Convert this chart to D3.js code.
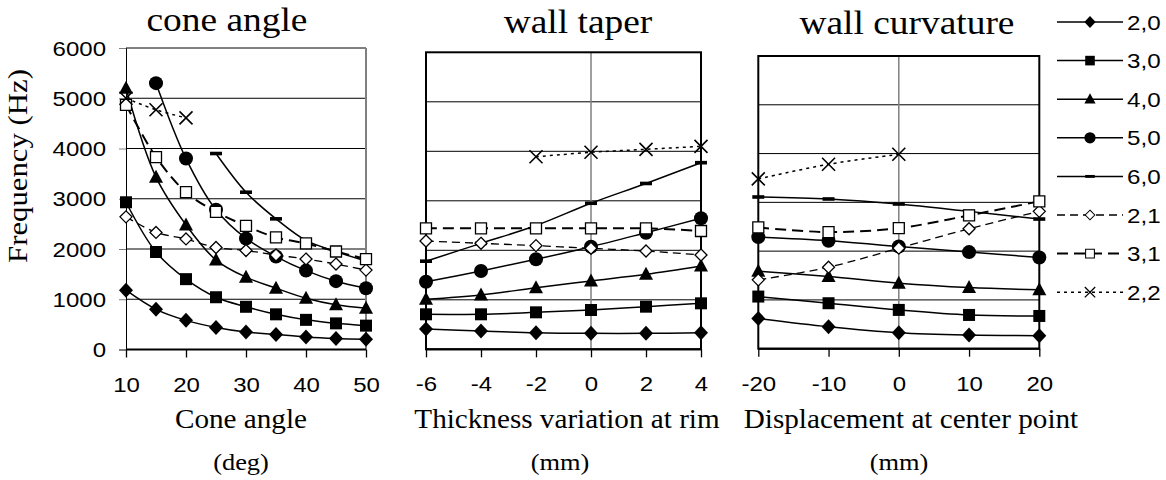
<!DOCTYPE html>
<html>
<head>
<meta charset="utf-8">
<script src="https://cdnjs.cloudflare.com/ajax/libs/d3/7.8.5/d3.min.js"></script>
<style type="text/css">
  body{
    margin: 0;
    background: white;
  }
  svg text{
    fill: black;
  }
</style>
</head>
<body>
<svg id="chart" width="1166" height="480"></svg>
<script>

// series (mode labels) in legend order
var seriesNames = ["2,0", "3,0", "4,0", "5,0", "6,0", "2,1", "3,1", "2,2"];

var yTicks = [0, 1000, 2000, 3000, 4000, 5000, 6000];

// cone angle panel
var coneX = [10, 15, 20, 25, 30, 35, 40, 45, 50];
var coneTicks = [10, 20, 30, 40, 50];
var coneValues = [
  [1180, 800, 580, 440, 350, 300, 250, 220, 205],
  [2930, 1940, 1400, 1040, 850, 700, 590, 520, 475],
  [5200, 3430, 2480, 1780, 1440, 1220, 1020, 890, 820],
  [null, 5300, 3800, 2780, 2210, 1850, 1570, 1360, 1220],
  [null, null, null, 3900, 3130, 2600, 2170, 1950, 1760],
  [2640, 2330, 2200, 2030, 1970, 1880, 1800, 1700, 1580],
  [4870, 3830, 3130, 2740, 2460, 2230, 2110, 1950, 1800],
  [5000, 4770, 4610, null, null, null, null, null, null]
];

// wall taper panel
var taperX = [-6, -4, -2, 0, 2, 4];
var taperTicks = [-6, -4, -2, 0, 2, 4];
var taperValues = [
  [410, 370, 335, 322, 322, 335],
  [707, 707, 747, 794, 861, 929],
  [1010, 1097, 1244, 1380, 1515, 1683],
  [1366, 1582, 1818, 2073, 2356, 2646],
  [1780, 2140, 2500, 2950, 3350, 3770],
  [2188, 2141, 2094, 2040, 1986, 1905],
  [2444, 2444, 2444, 2444, 2444, 2390],
  [null, null, 3890, 3980, 4040, 4100]
];

// wall curvature panel
var curvX = [-20, -10, 0, 10, 20];
var curvTicks = [-20, -10, 0, 10, 20];
var curvValues = [
  [620, 452, 329, 281, 267],
  [1069, 932, 795, 692, 671],
  [1590, 1480, 1343, 1254, 1206],
  [2288, 2213, 2096, 1980, 1870],
  [3110, 3069, 2966, 2815, 2658],
  [1411, 1671, 2062, 2459, 2815],
  [2486, 2391, 2473, 2733, 3021],
  [3480, 3781, 3985, null, null]
];

// look of each series
var seriesStyle = [
  {marker: "diamond", dash: null, width: 1.5},
  {marker: "square", dash: null, width: 1.5},
  {marker: "triangle", dash: null, width: 1.5},
  {marker: "circle", dash: null, width: 1.5},
  {marker: "bar", dash: null, width: 1.5},
  {marker: "odiamond", dash: "8,5", width: 1.3},
  {marker: "osquare", dash: "11,6", width: 2},
  {marker: "cross", dash: "3,4", width: 1.5}
];

var SANS = "'Liberation Sans', Arial, sans-serif";
var SERIF = "'Liberation Serif', 'Times New Roman', serif";
var stretch = 1.2;  // the picture is wider than its fonts

var panels = [
  {x: coneX, values: coneValues, ticks: coneTicks, domain: [10, 50],
   left: 126, right: 366, top: 48, bottom: 349.5,
   title: "cone angle", titleX: 227, titleY: 31,
   label1: "Cone angle", label2: "(deg)", labelX: 241, label2X: 241, first: true},
  {x: taperX, values: taperValues, ticks: taperTicks, domain: [-6, 4],
   left: 426, right: 701, top: 52.3, bottom: 349.3,
   title: "wall taper", titleX: 578, titleY: 33,
   label1: "Thickness variation at rim", label2: "(mm)", labelX: 567, label2X: 560, first: false},
  {x: curvX, values: curvValues, ticks: curvTicks, domain: [-20, 20],
   left: 758.3, right: 1039.3, top: 56, bottom: 348.7,
   title: "wall curvature", titleX: 907, titleY: 34,
   label1: "Displacement at center point", label2: "(mm)", labelX: 911, label2X: 899, first: false}
];

var svg = d3.select("#chart");

function fit(sel, k) {
  sel.each(function() {
    var w = this.getComputedTextLength();
    d3.select(this).attr("textLength", w * k).attr("lengthAdjust", "spacingAndGlyphs");
  });
}

function markerPath(type) {
  var p = d3.path();
  if (type == "diamond") {
    p.moveTo(0, -7.5); p.lineTo(7, 0); p.lineTo(0, 7.5); p.lineTo(-7, 0); p.closePath();
  } else if (type == "odiamond") {
    p.moveTo(0, -6); p.lineTo(6, 0); p.lineTo(0, 6); p.lineTo(-6, 0); p.closePath();
  } else if (type == "square") {
    p.rect(-6, -6, 12, 12);
  } else if (type == "osquare") {
    p.rect(-5.5, -5.5, 11, 11);
  } else if (type == "triangle") {
    p.moveTo(0, -7.5); p.lineTo(7, 5.5); p.lineTo(-7, 5.5); p.closePath();
  } else if (type == "circle") {
    p.arc(0, 0, 7, 0, 2 * Math.PI);
  } else if (type == "bar") {
    p.rect(-6, -1.8, 12, 3.6);
  } else if (type == "cross") {
    p.moveTo(-6.5, -6.5); p.lineTo(6.5, 6.5); p.moveTo(6.5, -6.5); p.lineTo(-6.5, 6.5);
  }
  return p.toString();
}

function drawMarker(g, type, x, y, s) {
  var m = g.append("path")
    .attr("d", markerPath(type))
    .attr("transform", "translate(" + x + "," + y + ") scale(" + (s || 1) + ")");
  if (type == "odiamond" || type == "osquare") {
    m.attr("fill", "white").attr("stroke", "black").attr("stroke-width", 1.3);
  } else if (type == "cross") {
    m.attr("fill", "none").attr("stroke", "black").attr("stroke-width", 1.6);
  } else {
    m.attr("fill", "black").attr("stroke", "none");
  }
}

panels.forEach(function(pn) {

  var xScale = d3.scaleLinear().domain(pn.domain).range([pn.left, pn.right]);
  var yScale = d3.scaleLinear().domain([0, 6000]).range([pn.bottom, pn.top]);

  var g = svg.append("g");

  // horizontal gridlines
  g.selectAll(".grid")
    .data(yTicks.slice(1, -1))
    .enter()
    .append("line")
    .attr("x1", pn.left).attr("x2", pn.right)
    .attr("y1", function(d) { return yScale(d); })
    .attr("y2", function(d) { return yScale(d); })
    .attr("stroke", "black").attr("stroke-width", 1);

  if (pn.first) {
    g.append("line")
      .attr("x1", pn.left).attr("x2", pn.right)
      .attr("y1", pn.top).attr("y2", pn.top)
      .attr("stroke", "black").attr("stroke-width", 1);
    g.append("line")
      .attr("x1", pn.right).attr("x2", pn.right)
      .attr("y1", pn.top).attr("y2", pn.bottom)
      .attr("stroke", "#808080").attr("stroke-width", 2);

    // y axis with labels
    var yAxis = d3.axisLeft(yScale).tickValues(yTicks).tickSize(7).tickPadding(13)
      .tickFormat(d3.format("d"));
    var ya = g.append("g")
      .attr("transform", "translate(" + pn.left + ",0)")
      .call(yAxis);
    ya.select(".domain").attr("stroke", "black").attr("stroke-width", 1);
    ya.selectAll(".tick line").attr("stroke", "#808080");
    ya.selectAll(".tick text")
      .attr("font-family", SANS)
      .attr("font-size", 20)
      .attr("dy", "0.36em")
      .call(fit, stretch);
  } else {
    // zero line
    g.append("line")
      .attr("x1", xScale(0)).attr("x2", xScale(0))
      .attr("y1", pn.top).attr("y2", pn.bottom)
      .attr("stroke", "#808080").attr("stroke-width", 1.5);
    g.append("rect")
      .attr("x", pn.left).attr("y", pn.top)
      .attr("width", pn.right - pn.left).attr("height", pn.bottom - pn.top)
      .attr("fill", "none").attr("stroke", "black").attr("stroke-width", 2);
  }

  // x axis
  var xAxis = d3.axisBottom(xScale).tickValues(pn.ticks).tickSize(8).tickPadding(20)
    .tickFormat(d3.format("d"));
  var xa = g.append("g")
    .attr("transform", "translate(0," + pn.bottom + ")")
    .call(xAxis);
  xa.select(".domain").attr("stroke", "black").attr("stroke-width", 2)
    .attr("d", "M" + pn.left + ",0H" + pn.right);
  xa.selectAll(".tick line").attr("stroke", "black").attr("stroke-width", 1.3);
  xa.selectAll(".tick text")
    .attr("font-family", SANS)
    .attr("font-size", 20)
    .text(function(d) { return d < 0 ? "-" + Math.abs(d) : d; })
    .call(fit, stretch);

  // series
  pn.values.forEach(function(vals, si) {
    var st = seriesStyle[si];
    var pts = pn.x.map(function(xv, i) { return [xv, vals[i]]; });
    var line = d3.line()
      .defined(function(d) { return d[1] != null; })
      .x(function(d) { return xScale(d[0]); })
      .y(function(d) { return yScale(d[1]); })
      .curve(d3.curveCatmullRom.alpha(0.5));
    g.append("path")
      .attr("d", line(pts))
      .attr("fill", "none")
      .attr("stroke", "black")
      .attr("stroke-width", st.width)
      .attr("stroke-dasharray", st.dash);
    pts.filter(function(d) { return d[1] != null; }).forEach(function(d) {
      drawMarker(g, st.marker, xScale(d[0]), yScale(d[1]));
    });
  });

  // titles
  svg.append("text")
    .attr("font-family", SERIF)
    .attr("x", pn.titleX).attr("y", pn.titleY)
    .attr("text-anchor", "middle")
    .attr("font-size", 34)
    .text(pn.title)
    .call(fit, 1.1);

  svg.append("text")
    .attr("font-family", SERIF)
    .attr("x", pn.labelX).attr("y", 428)
    .attr("text-anchor", "middle")
    .attr("font-size", 27)
    .text(pn.label1)
    .call(fit, 1.08);

  svg.append("text")
    .attr("font-family", SERIF)
    .attr("x", pn.label2X).attr("y", 470)
    .attr("text-anchor", "middle")
    .attr("font-size", 24)
    .text(pn.label2)
    .call(fit, 1.1);
});

// y axis title
svg.append("text")
  .attr("font-family", SERIF)
  .attr("transform", "translate(27,166) rotate(-90)")
  .attr("text-anchor", "middle")
  .attr("font-size", 27)
  .attr("textLength", 194)
  .attr("lengthAdjust", "spacingAndGlyphs")
  .text("Frequency  (Hz)");

// legend
var legend = svg.append("g");
seriesNames.forEach(function(name, i) {
  var st = seriesStyle[i];
  var cy = 22 + i * 38.6;
  legend.append("line")
    .attr("x1", 1057).attr("x2", 1123)
    .attr("y1", cy).attr("y2", cy)
    .attr("stroke", "black")
    .attr("stroke-width", st.width)
    .attr("stroke-dasharray", st.dash);
  drawMarker(legend, st.marker, 1090, cy, 0.8);
  legend.append("text")
    .attr("font-family", SANS)
    .attr("x", 1127).attr("y", cy + 7.5)
    .attr("font-size", 21)
    .text(name)
    .call(fit, 1.15);
});

</script>
</body>
</html>
